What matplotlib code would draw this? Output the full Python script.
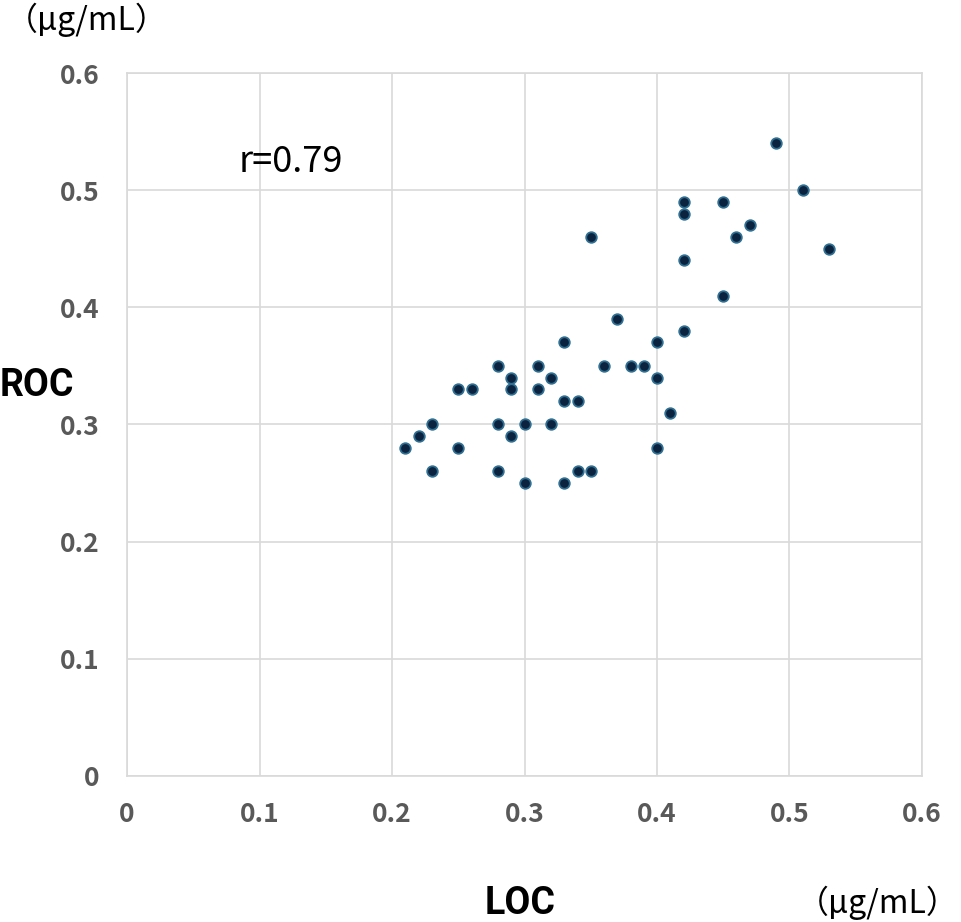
import matplotlib.pyplot as plt

plt.rcParams['font.family'] = ['Noto Sans CJK JP', 'DejaVu Sans']

loc = [0.21, 0.22, 0.23, 0.23, 0.25, 0.25, 0.26, 0.28, 0.28, 0.28,
       0.29, 0.29, 0.29, 0.30, 0.30, 0.31, 0.31, 0.32, 0.32, 0.33,
       0.33, 0.33, 0.34, 0.34, 0.35, 0.35, 0.36, 0.37, 0.38, 0.39,
       0.40, 0.40, 0.40, 0.41, 0.42, 0.42, 0.42, 0.42, 0.45, 0.45,
       0.46, 0.47, 0.49, 0.51, 0.53]
roc = [0.28, 0.29, 0.30, 0.26, 0.33, 0.28, 0.33, 0.35, 0.30, 0.26,
       0.34, 0.33, 0.29, 0.30, 0.25, 0.35, 0.33, 0.34, 0.30, 0.37,
       0.32, 0.25, 0.32, 0.26, 0.26, 0.46, 0.35, 0.39, 0.35, 0.35,
       0.37, 0.34, 0.28, 0.31, 0.49, 0.48, 0.44, 0.38, 0.49, 0.41,
       0.46, 0.47, 0.54, 0.50, 0.45]
ticks = [0, 0.1, 0.2, 0.3, 0.4, 0.5, 0.6]
tick_labels = ['0', '0.1', '0.2', '0.3', '0.4', '0.5', '0.6']

fig = plt.figure(figsize=(9.61, 9.22), dpi=100)
ax = fig.add_axes([0.1322, 0.1584, 0.8272, 0.7624])

ax.scatter(loc, roc, s=58, color='#0c2340', edgecolors='#2f6f91', linewidths=1.3, zorder=3)

ax.set_xlim(0, 0.6)
ax.set_ylim(0, 0.6)
ax.set_xticks(ticks)
ax.set_yticks(ticks)
ax.set_xticklabels(tick_labels)
ax.set_yticklabels(tick_labels)
ax.grid(True, color='#d9d9d9', linewidth=1.2)
ax.set_axisbelow(True)
for s in ax.spines.values():
    s.set_color('#d9d9d9')
    s.set_linewidth(1.2)
ax.tick_params(length=0, labelsize=19, labelcolor='#595959')
ax.tick_params(axis='y', pad=20)
ax.tick_params(axis='x', pad=18)
for lab in ax.get_xticklabels() + ax.get_yticklabels():
    lab.set_fontweight('bold')

ax.text(0.084, 0.524, 'r=0.79', fontsize=26, va='center', ha='left')

fig.text(0.0, 1 - 386 / 922, 'ROC', fontsize=27, fontweight='bold', ha='left', va='center',
         family=['Roboto', 'DejaVu Sans'])
fig.text(520 / 961, 1 - 903 / 922, 'LOC', fontsize=27, fontweight='bold', ha='center', va='center',
         family=['Roboto', 'DejaVu Sans'])
fig.text(87 / 961, 1 - 20 / 922, '（μg/mL）', fontsize=23, ha='center', va='center')
fig.text(0.998, 1 - 903 / 922, '（μg/mL）', fontsize=23, ha='right', va='center')

fig.savefig('out.png', dpi=100)
